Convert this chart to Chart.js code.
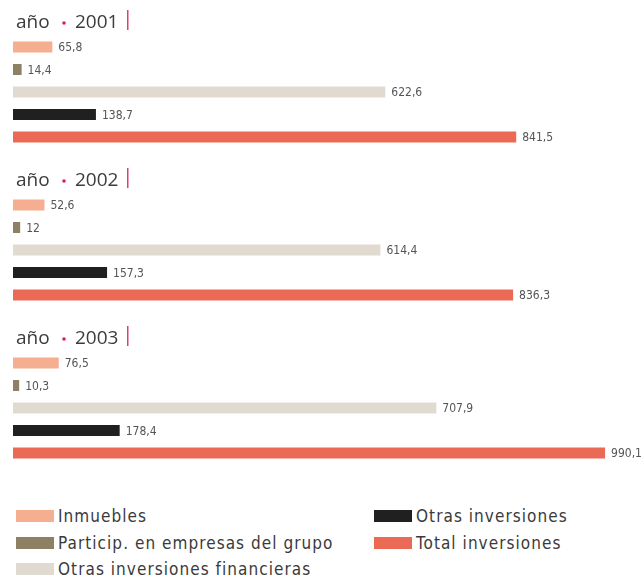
<!DOCTYPE html>
<html lang="es">
<head>
<meta charset="utf-8">
<script src="https://cdn.jsdelivr.net/npm/chart.js@4.4.1/dist/chart.umd.min.js"></script>
<style>
  body { margin: 0; background: #fff; }
  #contenedor { position: relative; width: 643px; height: 490px; }
  #leyenda {
    position: absolute; left: 16px; top: 503px;
    display: grid; grid-template-columns: 358px auto;
    grid-template-rows: repeat(3, 26.5px); grid-auto-flow: column;
    font-family: "DejaVu Sans Condensed", "DejaVu Sans", sans-serif;
    font-stretch: condensed; font-size: 17px; letter-spacing: 1.05px; color: #3a3a3a;
  }
  .item { display: flex; align-items: center; }
  .muestra { width: 38px; height: 12px; margin-right: 4px; }
</style>
</head>
<body>
<div id="contenedor"><canvas id="grafico-inversiones"></canvas></div>
<div id="leyenda"></div>
<script>
// datos (millones)
const anios = ['2001', '2002', '2003'];
const series = ['Inmuebles', 'Particip. en empresas del grupo', 'Otras inversiones financieras', 'Otras inversiones', 'Total inversiones'];
const inmuebles = [65.8, 52.6, 76.5];
const participGrupo = [14.4, 12, 10.3];
const otrasFinancieras = [622.6, 614.4, 707.9];
const otrasInversiones = [138.7, 157.3, 178.4];
const totalInversiones = [841.5, 836.3, 990.1];

const colores = ['#f6ae90', '#8d8064', '#e1dad0', '#202020', '#eb6a55'];
const valores = [inmuebles, participGrupo, otrasFinancieras, otrasInversiones, totalInversiones];

function formato(v) {
  return String(v).replace('.', ',');
}

// etiquetas de valor y titulos "año • 2001"
const textosPlugin = {
  id: 'textos',
  afterDatasetsDraw(chart) {
    const ctx = chart.ctx;
    ctx.save();
    ctx.font = '12px "DejaVu Sans Condensed", "DejaVu Sans", sans-serif';
    ctx.fillStyle = '#555';
    ctx.textBaseline = 'middle';
    chart.data.datasets.forEach(function (ds, i) {
      chart.getDatasetMeta(i).data.forEach(function (bar, j) {
        ctx.fillText(formato(ds.data[j]), bar.x + 6, bar.y + 1);
      });
    });

    const primera = chart.getDatasetMeta(0).data;
    const izq = chart.chartArea.left;
    anios.forEach(function (anio, j) {
      const base = primera[j].y - 19;
      ctx.textBaseline = 'alphabetic';
      ctx.fillStyle = '#3c3c3c';
      ctx.font = '19px "Open Sans", sans-serif';
      ctx.fillText('año', izq + 3, base);
      ctx.fillText(anio, izq + 62, base);
      ctx.fillStyle = '#dc2055';
      ctx.beginPath();
      ctx.arc(izq + 51, base - 5, 1.8, 0, Math.PI * 2);
      ctx.fill();
      ctx.fillStyle = '#e0406a';
      ctx.fillRect(izq + 114, base - 18, 1.5, 20);
    });
    ctx.restore();
  }
};

const ctx = document.getElementById('grafico-inversiones');
new Chart(ctx, {
  type: 'bar',
  data: {
    labels: anios,
    datasets: series.map(function (nombre, i) {
      return {
        label: nombre,
        data: valores[i],
        backgroundColor: colores[i],
        categoryPercentage: 0.712,
        barPercentage: 0.489,
        clip: false
      };
    })
  },
  options: {
    indexAxis: 'y',
    responsive: true,
    maintainAspectRatio: false,
    animation: false,
    layout: { padding: { left: 13, right: 32, top: 13, bottom: 3 } },
    scales: {
      x: { display: false, min: 0, max: 1000 },
      y: { display: false }
    },
    plugins: {
      legend: { display: false },
      tooltip: { enabled: false }
    }
  },
  plugins: [textosPlugin]
});

// leyenda en dos columnas
const leyenda = document.getElementById('leyenda');
series.forEach(function (nombre, i) {
  const item = document.createElement('div');
  item.className = 'item';
  item.innerHTML = '<span class="muestra" style="background:' + colores[i] + '"></span>' + nombre;
  leyenda.appendChild(item);
});
</script>
</body>
</html>
